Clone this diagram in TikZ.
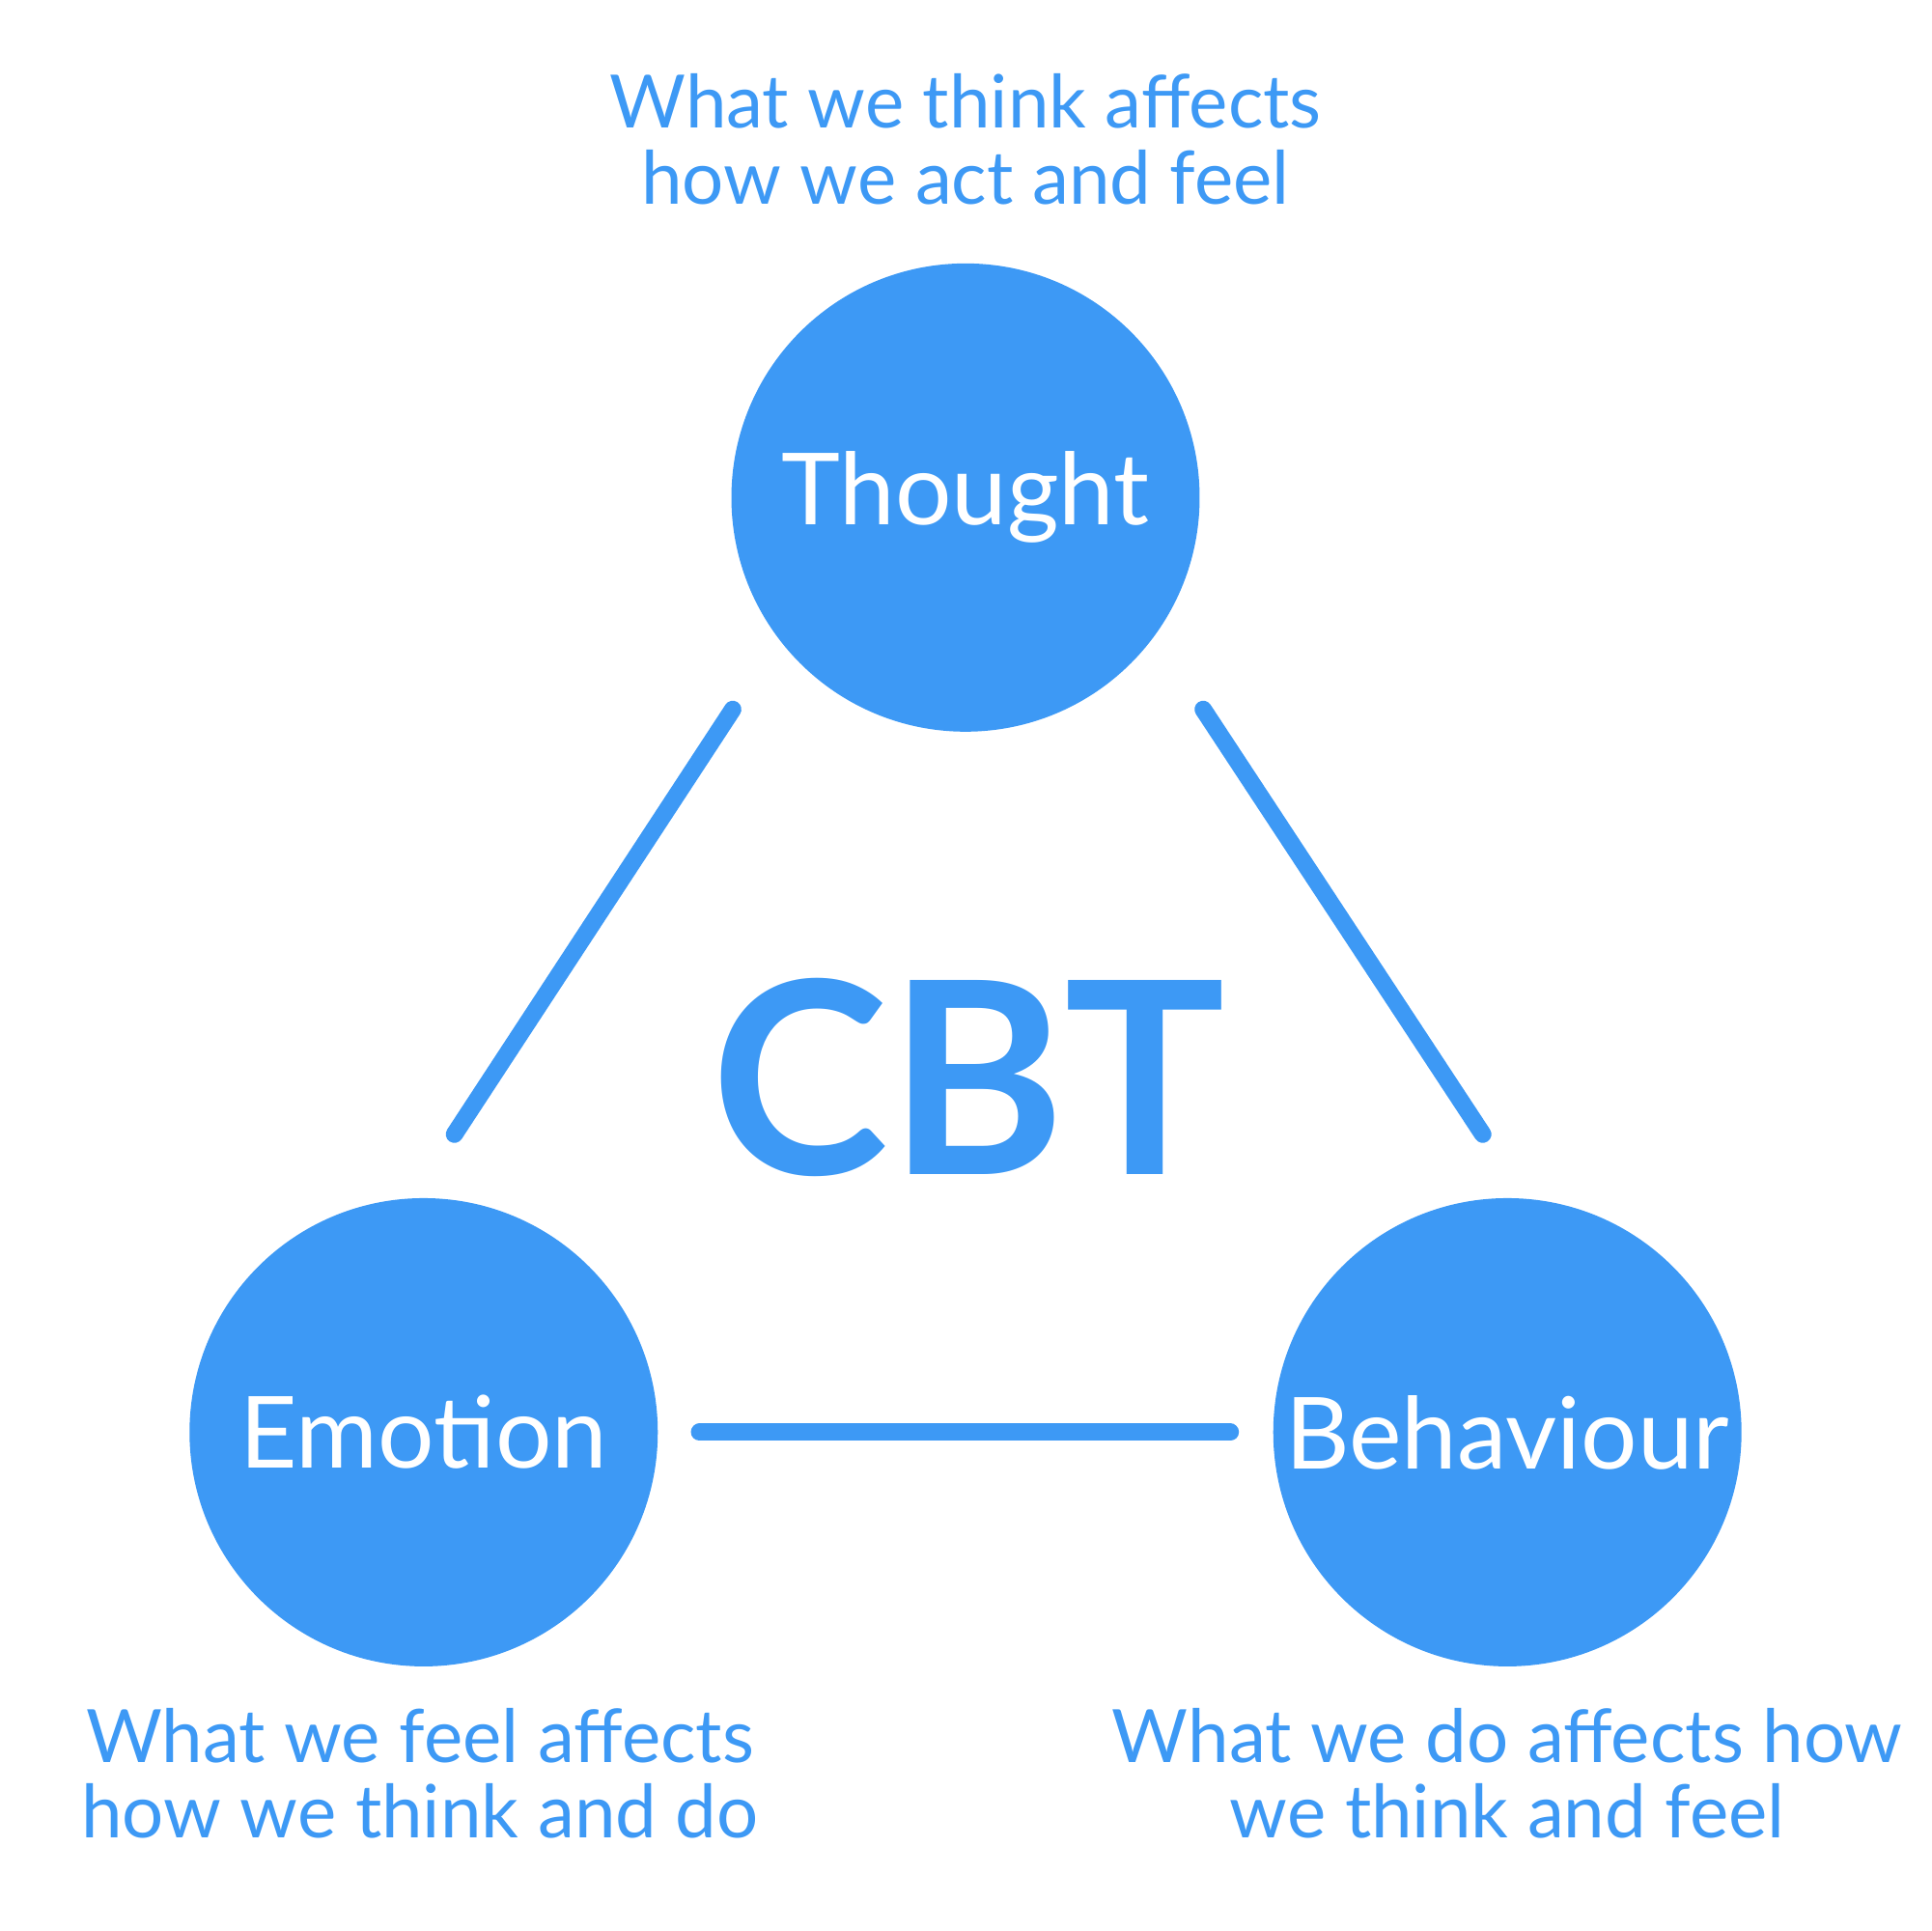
\documentclass[tikz,border=0pt]{standalone}
\usepackage{fontspec}
\setmainfont{Lato}
\definecolor{cbt}{HTML}{3D99F5}
\begin{document}
\begin{tikzpicture}[x=0.01cm,y=-0.01cm,
  circ/.style={circle,fill=cbt,minimum size=3.8cm,inner sep=0pt,text=white,font=\fontsize{23}{27}\selectfont},
  conn/.style={draw=cbt,line width=4pt,line cap=round},
  lbl/.style={text=cbt,align=center,font=\fontsize{17}{17.5}\selectfont}]
\useasboundingbox (0,0) rectangle (1568,1568);
\node[circ] (t) at (784,404) {Thought};
\node[circ] (e) at (344,1163) {Emotion};
\node[circ] (b) at (1224,1163) {Behaviour};
\coordinate (t1) at (595,576); \coordinate (e1) at (369,921);
\coordinate (t2) at (977,576); \coordinate (b1) at (1204,921);
\coordinate (e2) at (568,1163); \coordinate (b2) at (999,1163);
\draw[conn] (t1) -- (e1);
\draw[conn] (t2) -- (b1);
\draw[conn] (e2) -- (b2);
\node[text=cbt,font=\fontsize{62}{64}\selectfont\bfseries] (c) at (786,875) {CBT};
\node[lbl] (lt) at (784,113) {What we think affects\\how we act and feel};
\node[lbl] (le) at (341,1440) {What we feel affects\\how we think and do};
\node[lbl] (lb) at (1224,1440) {What we do affects how\\we think and feel};
\end{tikzpicture}
\end{document}
